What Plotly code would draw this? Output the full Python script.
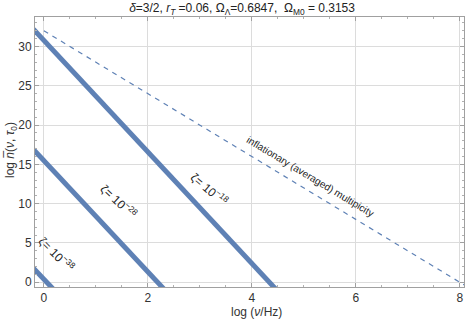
import plotly.graph_objects as go

# straight lines: endpoints (log nu, log n)
line18_x = [-0.2, 4.5]
line18_y = [32.2, -1.15]
line28_x = [-0.2, 2.4]
line28_y = [16.9, -1.5]
line38_x = [-0.2, 0.3]
line38_y = [1.8, -1.7]
infl_x = [0.0, 8.1]
infl_y = [32.0, -0.4]

x_ticks = [0, 2, 4, 6, 8]
y_ticks = [0, 5, 10, 15, 20, 25, 30]

blue = "#5e81b5"
font = "Liberation Sans, Arial, sans-serif"

fig = go.Figure()
for xs, ys in [(line18_x, line18_y), (line28_x, line28_y), (line38_x, line38_y)]:
    fig.add_trace(go.Scatter(x=xs, y=ys, mode="lines",
                             line=dict(color=blue, width=5), showlegend=False))
fig.add_trace(go.Scatter(x=infl_x, y=infl_y, mode="lines",
                         line=dict(color=blue, width=1.2, dash="5px,5px"), showlegend=False))

ann_font = dict(family=font, size=12, color="#222")
fig.add_annotation(x=3.19, y=11.9, text="ζ= 10<sup>−18</sup>", textangle=40,
                   showarrow=False, font=ann_font)
fig.add_annotation(x=1.44, y=10.3, text="ζ= 10<sup>−28</sup>", textangle=43,
                   showarrow=False, font=ann_font)
fig.add_annotation(x=0.25, y=3.6, text="ζ= 10<sup>−38</sup>", textangle=45,
                   showarrow=False, font=ann_font)
fig.add_annotation(x=5.12, y=13.4, text="inflationary (averaged) multipicity", textangle=31,
                   showarrow=False, font=dict(family=font, size=10, color="#222"))

W, H = 470, 322
l, r, t, b = 35, 6, 17, 35
pw, ph = W - l - r, H - t - b

# axis titles (pixel position -> paper coords)
fig.add_annotation(x=(256 - l) / pw, y=((H - 312) - b) / ph, xref="paper", yref="paper",
                   xanchor="center", yanchor="middle",
                   text="log (<i>ν</i>/Hz)",
                   showarrow=False, font=dict(family=font, size=12, color="#333"))
fig.add_annotation(x=(11 - l) / pw, y=((H - 150) - b) / ph, xref="paper", yref="paper",
                   xanchor="center", yanchor="middle",
                   text="log <i>n\u0305</i>(<i>ν</i>, <i>τ</i><sub>0</sub>)",
                   textangle=-90, showarrow=False, font=dict(family=font, size=12, color="#333"))

axis_common = dict(
    showline=True, linecolor="#a0a0a0", linewidth=1, mirror="ticks",
    ticks="inside", ticklen=4, tickcolor="#a0a0a0",
    showgrid=True, gridcolor="#dcdcdc", gridwidth=1, zeroline=False,
    tickfont=dict(family=font, size=12, color="#333"), automargin=False,
)

fig.update_xaxes(range=[-0.17, 8.08], tickvals=x_ticks, ticklabeloverflow="allow",
                 minor=dict(ticks="inside", ticklen=2, dtick=0.5, tick0=0, tickcolor="#b0b0b0", showgrid=False),
                 **axis_common)
fig.update_yaxes(range=[-0.6, 33.75], tickvals=y_ticks,
                 minor=dict(ticks="inside", ticklen=2, dtick=1, tick0=0, tickcolor="#b0b0b0", showgrid=False),
                 **axis_common)

fig.update_layout(
    width=W, height=H,
    margin=dict(l=l, r=r, t=t, b=b),
    paper_bgcolor="white", plot_bgcolor="white",
    title=dict(text="<i>δ</i>=3/2, <i>r<sub>T</sub></i> =0.06, Ω<sub>Λ</sub>=0.6847,  Ω<sub>M0</sub> = 0.3153",
               x=0.515, xanchor="center", y=0.975, yanchor="middle", automargin=False,
               font=dict(family=font, size=12, color="#222")),
)

fig.write_html("out.html", config={"displayModeBar": False},
               post_script="document.body.style.margin='0';")
